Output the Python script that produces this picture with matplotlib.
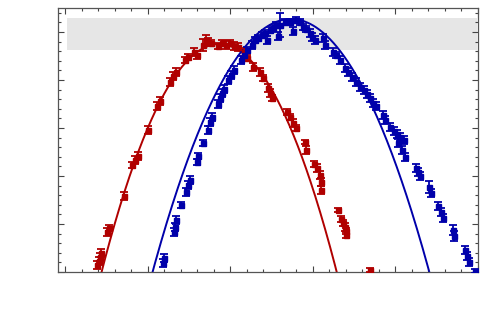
import matplotlib
matplotlib.use("Agg")
import matplotlib.pyplot as plt
import numpy as np

# ---- data ----
red_x = [1.91, 2.03, 2.09, 2.15, 2.52, 2.64, 3.55, 4.03, 4.21, 4.39, 5.00, 5.55, 5.73,
         6.33, 6.52, 6.70, 7.24, 7.42, 7.79, 7.97, 8.33, 8.52, 8.64, 8.82, 9.24, 9.48,
         9.73, 9.97, 10.21, 10.45, 10.82, 11.00, 11.36, 11.79, 11.97, 12.27, 12.39, 12.52,
         13.42, 13.61, 13.79, 13.97, 14.52, 14.58, 15.06, 15.24, 15.42, 15.48, 15.48,
         16.52, 16.70, 16.82, 16.94, 17.00, 17.00, 18.45]
red_y = [0.73, 1.15, 1.56, 1.98, 4.17, 4.58, 7.92, 11.15, 11.67, 12.08, 14.79, 17.29, 17.81,
         19.79, 20.42, 20.83, 22.08, 22.40, 22.92, 22.60, 23.65, 24.17, 23.96, 23.85, 23.54, 23.85,
         23.65, 23.85, 23.54, 23.44, 22.92, 22.29, 21.35, 20.83, 20.21, 19.17, 18.65, 18.13,
         16.67, 16.15, 15.52, 15.00, 13.54, 12.71, 11.25, 10.83, 10.10, 9.38, 8.54,
         6.46, 5.52, 5.10, 4.69, 4.27, 3.85, 0.21]
red_err = [0.40, 0.40, 0.40, 0.45, 0.40, 0.35, 0.40, 0.35, 0.40, 0.40, 0.45, 0.40, 0.40,
           0.40, 0.40, 0.40, 0.35, 0.35, 0.40, 0.40, 0.60, 0.55, 0.40, 0.35, 0.35, 0.35,
           0.40, 0.35, 0.40, 0.40, 0.40, 0.35, 0.40, 0.40, 0.35, 0.40, 0.40, 0.35,
           0.30, 0.35, 0.40, 0.35, 0.25, 0.40, 0.35, 0.40, 0.45, 0.40, 0.40,
           0.25, 0.35, 0.35, 0.40, 0.35, 0.35, 0.20]

blue_x = [5.91, 5.97, 6.58, 6.64, 6.70, 7.00, 7.30, 7.42, 7.55, 7.97, 8.03, 8.33, 8.64, 8.76,
          8.88, 9.24, 9.36, 9.48, 9.61, 9.85, 10.03, 10.21, 10.64, 10.82, 11.00, 11.30, 11.48,
          11.67, 11.91, 12.09, 12.21, 12.39, 12.58, 12.76, 13.00, 12.88, 13.30, 13.61, 13.79,
          13.97, 14.21, 14.39, 14.58, 14.82, 14.94, 15.12, 15.61, 15.73, 16.21, 16.39, 16.64,
          16.94, 17.12, 17.36, 17.61, 17.85, 18.09, 18.27, 18.45, 18.64, 18.82, 19.24, 19.36,
          19.67, 19.91, 20.09, 20.27, 20.52, 20.15, 20.39, 20.58, 21.24, 21.36, 21.48, 22.03,
          22.15, 22.58, 22.76, 22.88, 23.48, 23.55, 24.21, 24.33, 24.45, 24.82]
blue_y = [0.94, 1.46, 4.17, 4.69, 5.42, 6.98, 8.33, 9.06, 9.58, 11.46, 12.08, 13.44, 14.79, 15.63,
          16.15, 17.50, 18.13, 18.65, 19.06, 20.00, 20.52, 21.04, 22.08, 22.60, 23.13, 23.65, 24.17,
          24.38, 24.69, 24.90, 24.17, 25.21, 25.42, 25.73, 25.73, 24.58, 26.04, 26.04, 25.10,
          26.25, 26.04, 25.52, 25.31, 24.90, 24.48, 24.17, 24.38, 23.65, 22.92, 22.60, 22.08,
          21.25, 20.83, 20.31, 19.79, 19.27, 18.96, 18.54, 18.13, 17.60, 17.29, 16.35, 15.83,
          15.10, 14.69, 14.38, 14.06, 13.75, 13.44, 12.71, 11.98, 10.83, 10.42, 10.00, 8.85,
          8.23, 6.88, 6.25, 5.63, 4.38, 3.75, 2.29, 1.67, 1.04, 0.10]
blue_err = [0.40, 0.40, 0.40, 0.40, 0.40, 0.35, 0.40, 0.40, 0.40, 0.35, 0.35, 0.35, 0.40, 0.40,
            0.40, 0.40, 0.40, 0.40, 0.40, 0.40, 0.40, 0.40, 0.40, 0.35, 0.35, 0.40, 0.35,
            0.35, 0.35, 0.35, 0.45, 0.35, 0.35, 0.35, 1.20, 0.40, 0.35, 0.35, 0.40,
            0.35, 0.35, 0.35, 0.35, 0.40, 0.40, 0.45, 0.40, 0.45, 0.40, 0.35, 0.40,
            0.40, 0.40, 0.40, 0.40, 0.40, 0.40, 0.40, 0.40, 0.40, 0.40, 0.40, 0.45,
            0.45, 0.40, 0.40, 0.40, 0.40, 0.45, 0.45, 0.45, 0.45, 0.40, 0.40, 0.60,
            0.45, 0.45, 0.45, 0.45, 0.55, 0.50, 0.45, 0.45, 0.40, 0.20]

# quadratic fit coefficients (highest power first)
red_fit = [-0.4678, 8.715, -16.84]
blue_fit = [-0.3748, 10.243, -43.63]

band_x = [0.07, 24.95]
band_y = [23.1, 26.5]

red_col = '#b00000'
blue_col = '#0000aa'

fig = plt.figure(figsize=(4.9, 3.22), dpi=100)
ax = fig.add_axes([58/490, 50/322, 420/490, 264/322])
ax.set_xlim(-0.45, 25)
ax.set_ylim(0, 27.5)

ax.fill_between(band_x, band_y[0], band_y[1], color='#e6e6e6', lw=0, zorder=0)

xx = np.linspace(-0.45, 25, 600)
ax.plot(xx, np.polyval(red_fit, xx), color=red_col, lw=1.4, zorder=2)
ax.plot(xx, np.polyval(blue_fit, xx), color=blue_col, lw=1.4, zorder=2)

ax.errorbar(red_x, red_y, yerr=red_err, fmt='s', ms=3.6, color=red_col, ecolor=red_col,
            elinewidth=1.3, capsize=3, capthick=1.3, zorder=3)
ax.errorbar(blue_x, blue_y, yerr=blue_err, fmt='s', ms=3.6, color=blue_col, ecolor=blue_col,
            elinewidth=1.3, capsize=3, capthick=1.3, zorder=3)

ax.set_xticks(np.arange(0, 26, 5))
ax.set_xticks(np.arange(0, 26, 1), minor=True)
ax.set_yticks(np.arange(0, 28, 5))
ax.set_yticks(np.arange(0, 28, 1), minor=True)
ax.tick_params(which='both', direction='in', top=True, right=True,
               labelbottom=False, labelleft=False, color='#444444', width=0.8)
ax.tick_params(which='major', length=4)
ax.tick_params(which='minor', length=2.2)
for s in ax.spines.values():
    s.set_color('#555555')
    s.set_linewidth(0.9)

fig.savefig('out.png', dpi=100)
